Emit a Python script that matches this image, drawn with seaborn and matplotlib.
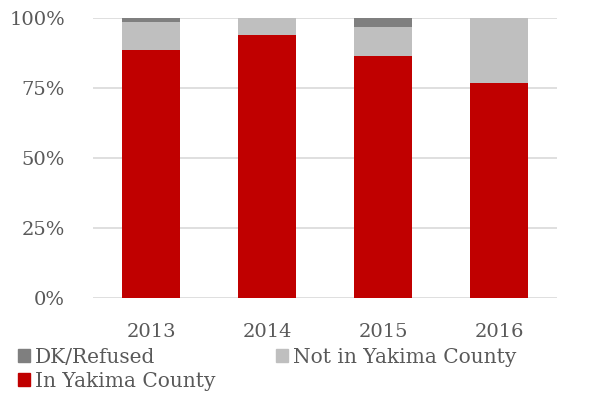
import matplotlib
matplotlib.use("Agg")
import matplotlib.pyplot as plt
import seaborn as sns
import numpy as np
import pandas as pd
from matplotlib.patches import Patch
from matplotlib.ticker import PercentFormatter

years = ["2013", "2014", "2015", "2016"]
in_yakima = [88.6, 93.9, 86.5, 76.8]
not_in_yakima = [10.0, 6.1, 10.3, 23.2]
dk_refused = [1.4, 0.0, 3.2, 0.0]

colors = {"DK/Refused": "#7F7F7F",
          "Not in Yakima County": "#BFBFBF",
          "In Yakima County": "#C00000"}

sns.set_theme(style="white")
plt.rcParams["font.family"] = ["DejaVu Serif"]

fig = plt.figure(figsize=(5.91, 4.01), dpi=100)
ax = fig.add_axes([93 / 591, 1 - 298 / 401, (557 - 93) / 591, (298 - 18) / 401])

df = pd.DataFrame({"year": years, "in": in_yakima,
                   "not": not_in_yakima, "dk": dk_refused})
df["top_not"] = df["in"] + df["not"]
df["top_dk"] = df["top_not"] + df["dk"]

# stacked layers drawn back to front as cumulative heights
for col, name in [("top_dk", "DK/Refused"), ("top_not", "Not in Yakima County"),
                  ("in", "In Yakima County")]:
    sns.barplot(data=df, x="year", y=col, color=colors[name], width=0.5,
                saturation=1, ax=ax, zorder=3, linewidth=0)

ax.set_ylim(0, 100)
ax.set_xlim(-0.5, 3.5)
ax.set_yticks([0, 25, 50, 75, 100])
ax.yaxis.set_major_formatter(PercentFormatter(decimals=0))
ax.grid(axis="y", color="#D9D9D9", linewidth=1.2, zorder=0)
ax.set_axisbelow(True)
for s in ax.spines.values():
    s.set_visible(False)
ax.set_xlabel("")
ax.set_ylabel("")
ax.tick_params(axis="both", length=0, labelsize=14, colors="#595959")
ax.tick_params(axis="y", pad=20)
ax.tick_params(axis="x", pad=18)

handles = [Patch(color=colors["DK/Refused"]),
           Patch(color=colors["In Yakima County"]),
           Patch(color=colors["Not in Yakima County"])]
labels = ["DK/Refused", "In Yakima County", "Not in Yakima County"]
fig.legend(handles, labels, ncol=2, loc="lower left",
           bbox_to_anchor=(0.01, -0.005), frameon=False,
           prop={"size": 14.5}, labelcolor="#595959",
           handlelength=0.6, handleheight=0.6, handletextpad=0.25,
           columnspacing=3.0, labelspacing=0.25, borderaxespad=0.2)

fig.savefig("out.png", dpi=100)
